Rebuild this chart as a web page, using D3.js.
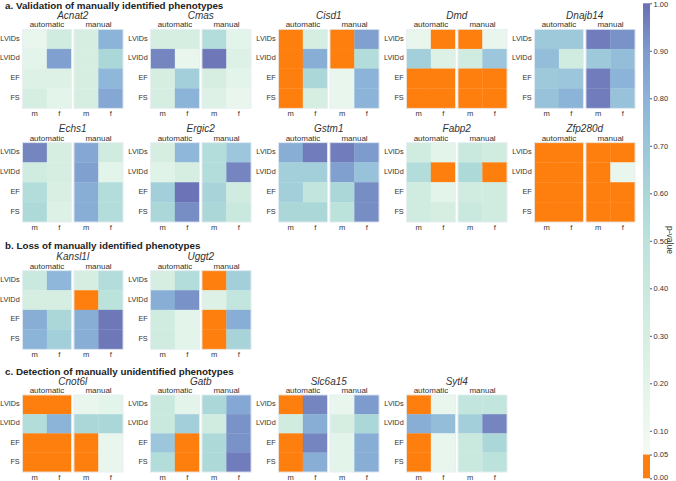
<!DOCTYPE html>
<html><head><meta charset="utf-8">
<script src="https://cdn.jsdelivr.net/npm/d3@7"></script>
<style>
html,body{margin:0;padding:0;background:#fff;}
svg{display:block;font-family:"Liberation Sans",Arial,Helvetica,sans-serif;}
</style></head>
<body>
<svg id="chart" width="676" height="481"></svg>
<script>
// ---------------- DATA ----------------
const sectionTitles = [
  "a. Validation of manually identified phenotypes",
  "b. Loss of manually identified phenotypes",
  "c. Detection of manually unidentified phenotypes"
];
const genes = ["Acnat2","Cmas","Cisd1","Dmd","Dnajb14",
               "Echs1","Ergic2","Gstm1","Fabp2","Zfp280d",
               "Kansl1l","Uggt2",
               "Cnot6l","Gatb","Slc6a15","Sytl4"];
// which genes appear in each heatmap row of the figure
const rowGenes = [[0,1,2,3,4],[5,6,7,8,9],[10,11],[12,13,14,15]];
const rowSection = [0,null,1,2];
const traits = ["LVIDs","LVIDd","EF","FS"];
const sexes = ["m","f"];
const methods = ["automatic","manual"];
// p-values: LVIDs m,f | LVIDd m,f | EF m,f | FS m,f
const pAutomatic = [
  [0.15,0.35, 0.20,0.88, 0.25,0.25, 0.30,0.20], // Acnat2
  [0.30,0.30, 0.95,0.15, 0.30,0.65, 0.30,0.80], // Cmas
  [0.01,0.30, 0.01,0.82, 0.01,0.60, 0.01,0.30], // Cisd1
  [0.15,0.01, 0.65,0.25, 0.01,0.01, 0.01,0.01], // Dmd
  [0.68,0.68, 0.75,0.35, 0.68,0.70, 0.72,0.80], // Dnajb14
  [0.95,0.30, 0.35,0.30, 0.55,0.28, 0.58,0.25], // Echs1
  [0.30,0.78, 0.22,0.30, 0.65,0.99, 0.60,0.93], // Ergic2
  [0.82,0.97, 0.65,0.65, 0.65,0.45, 0.60,0.60], // Gstm1
  [0.35,0.20, 0.55,0.01, 0.35,0.20, 0.35,0.30], // Fabp2
  [0.01,0.01, 0.01,0.01, 0.01,0.01, 0.01,0.01], // Zfp280d
  [0.40,0.78, 0.30,0.30, 0.82,0.60, 0.80,0.65], // Kansl1l
  [0.30,0.55, 0.82,0.92, 0.35,0.20, 0.35,0.20], // Uggt2
  [0.01,0.01, 0.55,0.80, 0.01,0.01, 0.01,0.01], // Cnot6l
  [0.40,0.20, 0.40,0.65, 0.70,0.01, 0.55,0.01], // Gatb
  [0.01,0.95, 0.35,0.82, 0.01,0.95, 0.01,0.82], // Slc6a15
  [0.01,0.15, 0.82,0.75, 0.01,0.15, 0.01,0.15]  // Sytl4
];
const pManual = [
  [0.30,0.80, 0.30,0.60, 0.30,0.78, 0.30,0.85], // Acnat2
  [0.55,0.20, 0.98,0.25, 0.30,0.20, 0.25,0.15], // Cmas
  [0.01,0.88, 0.01,0.55, 0.15,0.80, 0.15,0.80], // Cisd1
  [0.01,0.15, 0.35,0.70, 0.01,0.01, 0.01,0.01], // Dmd
  [0.97,0.92, 0.68,0.75, 0.97,0.80, 0.97,0.72], // Dnajb14
  [0.85,0.35, 0.88,0.20, 0.82,0.55, 0.82,0.55], // Echs1
  [0.55,0.70, 0.55,0.95, 0.62,0.35, 0.60,0.40], // Ergic2
  [0.97,0.90, 0.88,0.72, 0.60,0.93, 0.50,0.93], // Gstm1
  [0.40,0.35, 0.58,0.01, 0.35,0.35, 0.40,0.35], // Fabp2
  [0.01,0.01, 0.01,0.15, 0.01,0.01, 0.01,0.01], // Zfp280d
  [0.30,0.55, 0.01,0.50, 0.82,0.98, 0.82,0.98], // Kansl1l
  [0.01,0.65, 0.25,0.45, 0.01,0.82, 0.01,0.62], // Uggt2
  [0.15,0.20, 0.60,0.60, 0.01,0.15, 0.01,0.15], // Cnot6l
  [0.60,0.85, 0.35,0.92, 0.58,0.92, 0.58,0.97], // Gatb
  [0.15,0.90, 0.30,0.60, 0.20,0.82, 0.20,0.82], // Slc6a15
  [0.45,0.45, 0.65,0.95, 0.40,0.60, 0.40,0.50]  // Sytl4
];
const cbTicks = [0,0.05,0.1,0.2,0.3,0.4,0.5,0.6,0.7,0.8,0.9,1.0];
const colorStops = [0.05,0.1,0.2,0.3,0.4,0.5,0.6,0.7,0.8,0.9,1.0];
const colorRange = ["#f3faf4","#eef8f0","#e3f4ea","#d6eee2","#c9e9de","#bbe3db","#abd7d9","#9bc6db","#8cb3d8","#7d9bcd","#6a6fb3"];
const sigColor = "#ff7f0e";
const sigThreshold = 0.05;

// ---------------- DRAW ----------------
const svg = d3.select("#chart");
const textColor = "#333";
const cont = d3.scaleLinear().domain(colorStops).range(colorRange).clamp(true);
const color = v => v < sigThreshold ? sigColor : cont(v);

const groupX0 = 22.5, groupPitch = 128;
const panelW = 49, panelGap = 2.5;
const rowTops = [29.3, 142.7, 270.7, 395];
const rowHeights = [79, 79.3, 78.6, 77];
const sectionY = [9, null, 249, 375];

const xSex = d3.scaleBand().domain(sexes).range([0, panelW]);

rowGenes.forEach((gList, r) => {
  const top = rowTops[r];
  const panelH = rowHeights[r];
  const yTrait = d3.scaleBand().domain(traits).range([0, panelH]);
  if (rowSection[r] !== null) {
    svg.append("text").attr("x", 5).attr("y", sectionY[r])
      .attr("font-size", 9.8).attr("font-weight", "bold").attr("fill", "#222")
      .text(sectionTitles[rowSection[r]]);
  }
  gList.forEach((gi, k) => {
    const gx = groupX0 + k * groupPitch;
    const g = svg.append("g").attr("transform", `translate(${gx},${top})`);
    g.append("text").attr("x", panelW + panelGap / 2).attr("y", -10.3)
      .attr("text-anchor", "middle").attr("font-size", 10).attr("font-style", "italic")
      .attr("fill", textColor).text(genes[gi]);
    [pAutomatic, pManual].forEach((src, mi) => {
      const px = mi * (panelW + panelGap);
      const pg = g.append("g").attr("transform", `translate(${px},0)`);
      pg.append("text").attr("x", panelW / 2).attr("y", -2)
        .attr("text-anchor", "middle").attr("font-size", 8).attr("fill", textColor)
        .text(methods[mi]);
      const cells = [];
      traits.forEach((t, ti) => sexes.forEach((s, si) => cells.push({t, s, v: src[gi][ti * 2 + si]})));
      pg.selectAll("rect").data(cells).join("rect")
        .attr("x", d => xSex(d.s)).attr("y", d => yTrait(d.t))
        .attr("width", xSex.bandwidth()).attr("height", yTrait.bandwidth())
        .attr("fill", d => color(d.v))
        .attr("stroke", d => color(d.v)).attr("stroke-width", 0.3);
      pg.append("rect").attr("width", panelW).attr("height", panelH)
        .attr("fill", "none").attr("stroke", "#e8eef4").attr("stroke-width", 0.8);
      const ax = pg.append("g").attr("transform", `translate(0,${panelH})`)
        .call(d3.axisBottom(xSex).tickSize(0).tickPadding(2.6));
      ax.select(".domain").remove();
      ax.selectAll("text").attr("font-size", 7.6).attr("fill", textColor).attr("font-family", null);
      if (mi === 0) {
        const ay = pg.append("g").call(d3.axisLeft(yTrait).tickSize(0).tickPadding(2.8));
        ay.select(".domain").remove();
        ay.selectAll("text").attr("font-size", 7.3).attr("fill", textColor).attr("font-family", null)
          .attr("dy", "0.2em");
      }
    });
  });
});

// ---------------- COLORBAR ----------------
const cbX = 643, cbW = 7;
const cbY = d3.scaleLinear().domain([0, 1]).range([478.3, 3.3]);
const defs = svg.append("defs");
const grad = defs.append("linearGradient").attr("id", "cbgrad")
  .attr("x1", 0).attr("y1", 1).attr("x2", 0).attr("y2", 0);
colorStops.forEach((v, i) => {
  grad.append("stop").attr("offset", (v - 0.05) / 0.95).attr("stop-color", colorRange[i]);
});
svg.append("rect").attr("x", cbX).attr("y", cbY(1)).attr("width", cbW)
  .attr("height", cbY(0.05) - cbY(1)).attr("fill", "url(#cbgrad)");
svg.append("rect").attr("x", cbX).attr("y", cbY(0.05)).attr("width", cbW)
  .attr("height", cbY(0) - cbY(0.05)).attr("fill", sigColor);
const cax = svg.append("g").attr("transform", `translate(${cbX + cbW},0)`)
  .call(d3.axisRight(cbY).tickValues(cbTicks).tickFormat(d3.format(".2f")).tickSize(2).tickPadding(1.5));
cax.select(".domain").remove();
cax.selectAll("line").attr("stroke", "#555");
cax.selectAll("text").attr("font-size", 7.5).attr("fill", textColor).attr("font-family", null)
  .attr("dy", d => d === 0 ? "0.1em" : (d === 1 ? "0.45em" : "0.32em"));
svg.append("text").attr("transform", `translate(667,240) rotate(90)`)
  .attr("text-anchor", "middle").attr("font-size", 8.5).attr("fill", textColor).text("p-value");
</script>
</body></html>
